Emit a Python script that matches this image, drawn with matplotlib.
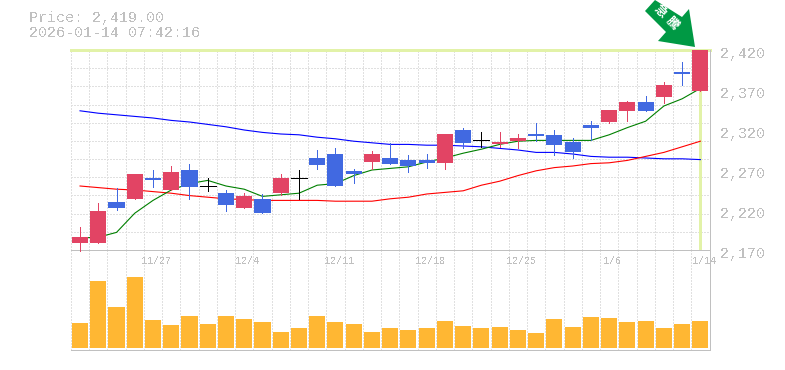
import matplotlib
matplotlib.use('Agg')
import matplotlib.pyplot as plt
from matplotlib.patches import Polygon
from matplotlib.transforms import Affine2D

# price candles, oldest first
opens = [2178, 2178, 2229, 2233, 2259, 2244, 2269, 2249, 2240, 2221, 2233, 2240, 2259, 2284, 2289, 2268, 2279, 2284,
         2281, 2281, 2278, 2319, 2306, 2301, 2305, 2314, 2313, 2304, 2325, 2329, 2343, 2354, 2360, 2392, 2368]
highs = [2198, 2228, 2246, 2264, 2269, 2274, 2276, 2259, 2244, 2240, 2239, 2264, 2269, 2294, 2296, 2270, 2293, 2303,
         2288, 2289, 2314, 2321, 2316, 2316, 2314, 2328, 2319, 2309, 2330, 2344, 2355, 2361, 2379, 2404, 2419]
lows = [2168, 2178, 2219, 2233, 2248, 2244, 2233, 2243, 2218, 2221, 2215, 2238, 2233, 2270, 2249, 2253, 2270, 2276,
        2266, 2271, 2270, 2296, 2298, 2298, 2296, 2305, 2288, 2284, 2306, 2328, 2330, 2343, 2353, 2375, 2368]
closes = [2185, 2218, 2221, 2264, 2256, 2266, 2248, 2249, 2225, 2236, 2215, 2259, 2259, 2275, 2249, 2264, 2289, 2276,
          2274, 2278, 2314, 2303, 2306, 2304, 2309, 2311, 2300, 2291, 2321, 2344, 2354, 2343, 2375, 2389, 2419]

# moving averages
ma_green = [2184, 2185, 2191, 2215, 2231, 2244, 2252, 2256, 2249, 2245, 2236, 2238, 2240, 2250, 2252, 2262, 2269, 2271,
            2273, 2279, 2284, 2290, 2295, 2301, 2305, 2306, 2306, 2306, 2306, 2313, 2322, 2330, 2349, 2358, 2371]
ma_red = [2249, 2247, 2245, 2244, 2242, 2240, 2237, 2235, 2233, 2232, 2231, 2231, 2231, 2231, 2230, 2230, 2230, 2233,
          2235, 2239, 2241, 2243, 2250, 2255, 2262, 2268, 2272, 2274, 2277, 2278, 2281, 2286, 2291, 2298, 2305]
ma_blue = [2343, 2340, 2338, 2336, 2334, 2331, 2329, 2326, 2323, 2319, 2316, 2314, 2313, 2310, 2308, 2305, 2303, 2301,
           2301, 2300, 2300, 2299, 2298, 2296, 2294, 2291, 2291, 2289, 2286, 2285, 2285, 2284, 2283, 2283, 2282]

volume = [25, 67, 41, 71, 28, 23, 32, 24, 32, 29, 26, 16, 20, 32, 26, 24, 16, 20,
          18, 20, 27, 22, 20, 21, 18, 15, 29, 21, 31, 30, 26, 27, 20, 24, 27]

date_idx = [4, 9, 14, 19, 24, 29, 34]
date_labels = ['11/27', '12/4', '12/11', '12/18', '12/25', '1/6', '1/14']
price_ticks = [2420, 2370, 2320, 2270, 2220, 2170]
price_labels = ['2,420', '2,370', '2,320', '2,270', '2,220', '2,170']

RED = '#e24464'
BLUE = '#4169e1'
GREY = '#c0c0c0'
GRID = '#e0e0e0'
PALE = '#e2f2a8'
W, H = 785, 370

plt.rcParams['font.family'] = ['Liberation Mono', 'Noto Sans CJK JP', 'DejaVu Sans']
plt.rcParams['text.antialiased'] = False

fig = plt.figure(figsize=(W / 100, H / 100), dpi=100)
left, right = 70.9 / W, 709.5 / W
ax = fig.add_axes([left, 1 - 250 / H, right - left, 200 / H])
ax_v = fig.add_axes([left, 1 - 350 / H, right - left, 100 / H])
ax_v.patch.set_visible(False)
ax.set_zorder(2)
ax.patch.set_visible(False)

dash = (0, (2, 2))
for a in (ax, ax_v):
    a.set_xlim(-0.5, 34.5)
    a.set_xticks([])
    a.set_yticks([])
    for s in a.spines.values():
        s.set_visible(False)
    for i in range(36):
        a.axvline(i - 0.5, color=GRID, lw=0.7, ls=dash, zorder=1, aa=False)

ax.set_ylim(2169, 2419)
for k in range(1, 11):
    ax.axhline(2169 + k * 250 / 11, color=GRID, lw=0.7, ls=dash, zorder=1, aa=False)

# last price marker lines
ax.axhline(2419, color=PALE, lw=2, zorder=2, aa=False, clip_on=False)
ax.plot([34, 34], [2169, 2419], color=PALE, lw=2, zorder=2, aa=False)
ax.plot([-0.5, 34.5], [2169, 2169], color=GREY, lw=0.7, zorder=3, aa=False, clip_on=False)
ax.plot([34.5, 34.5], [2169, 2419], color=GREY, lw=0.7, zorder=3, aa=False, clip_on=False)

xs = list(range(35))
ax.plot(xs, ma_blue, color='#0000ff', lw=0.8, zorder=3)
ax.plot(xs, ma_red, color='#ff0000', lw=0.8, zorder=3)
ax.plot(xs, ma_green, color='#008000', lw=0.8, zorder=3)

for i in xs:
    o, h, l, c = opens[i], highs[i], lows[i], closes[i]
    col = RED if c > o else BLUE if c < o else 'black'
    ax.plot([i, i], [l, h], color=col, lw=0.7, zorder=4, aa=False, clip_on=False, solid_capstyle='butt')
    if c == o:
        ax.plot([i - 0.44, i + 0.44], [c, c], color=col, lw=0.7, zorder=4, aa=False)
    else:
        ax.bar(i, abs(c - o), bottom=min(o, c), width=0.88, color=col, zorder=5, aa=False, clip_on=False)

ax_v.set_ylim(-1.7, 98.3)
ax_v.bar(xs, volume, width=0.88, color='#ffb733', zorder=3, aa=False)
ax_v.plot([-0.5, 34.5], [-1.7, -1.7], color=GREY, lw=0.7, zorder=4, aa=False, clip_on=False)
ax_v.plot([34.5, 34.5], [-1.7, 98.3], color=GREY, lw=0.7, zorder=4, aa=False, clip_on=False)

for v, s in zip(price_ticks, price_labels):
    ax.annotate(s, (1, v), xycoords=('axes fraction', 'data'), xytext=(7.7, -3.5), textcoords='offset points',
                ha='left', va='center', fontsize=10.8, color=GREY, annotation_clip=False)
for i, s in zip(date_idx, date_labels):
    ax.annotate(s, (i, 2169), xytext=(2.5, -8), textcoords='offset points', ha='center', va='center',
                fontsize=7.2, color=GREY, annotation_clip=False)

fig.text(29 / W, 1 - 18 / H, 'Price: 2,419.00', fontsize=10.8, color=GREY, ha='left', va='center')
fig.text(29 / W, 1 - 33 / H, '2026-01-14 07:42:16', fontsize=10.8, color=GREY, ha='left', va='center')

# green badge arrow, in image pixels
to_px = Affine2D().scale(1, -1).translate(0, H)
arrow = [(645, 11), (655, 0), (682, 17), (689, 9), (695, 47), (658, 41), (666, 32)]
fig.add_artist(Polygon(arrow, closed=True, transform=to_px, facecolor='#009944', edgecolor='none', clip_on=False))
for (px, py), ch in zip([(660, 12), (672, 24)], '急騰'):
    fig.text(px / W, 1 - py / H, ch, fontsize=9, fontweight='bold', color='white', rotation=-45,
             ha='center', va='center', rotation_mode='anchor', antialiased=True)

fig.savefig('out.png', dpi=100)
